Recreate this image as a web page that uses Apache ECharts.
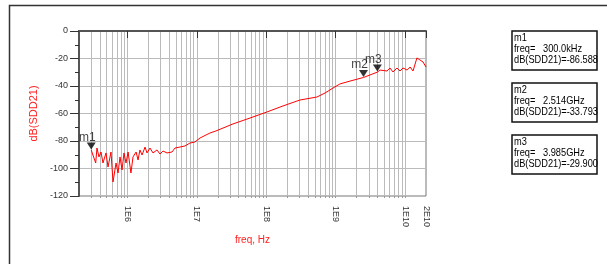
<!DOCTYPE html>
<html>
<head>
<meta charset="utf-8">
<script src="https://cdn.jsdelivr.net/npm/echarts@6/dist/echarts.min.js"></script>
<style>
  html, body { margin: 0; padding: 0; background: #fff; }
  #chart { width: 607px; height: 264px; }
</style>
</head>
<body>
<div id="chart"></div>
<script>
// sweep
const freqHz = [
  3.0e5, 3.48e5, 3.63e5, 3.88e5, 4.15e5, 4.43e5, 4.90e5, 5.24e5, 5.78e5, 6.18e5,
  6.83e5, 7.30e5, 7.80e5, 8.34e5, 8.90e5, 9.51e5, 1.02e6, 1.12e6, 1.20e6, 1.33e6,
  1.42e6, 1.51e6, 1.62e6, 1.79e6, 1.91e6, 2.11e6, 2.33e6, 2.66e6, 2.94e6, 3.25e6,
  3.71e6, 4.38e6, 4.83e6, 5.70e6, 6.73e6, 7.94e6, 9.37e6, 1.11e7, 1.54e7, 1.88e7,
  3.31e7, 5.82e7, 1.02e8, 1.74e8, 3.05e8, 5.37e8, 7.01e8, 9.14e8, 1.15e9, 1.61e9,
  2.514e9, 3.985e9, 4.34e9, 5.48e9, 6.05e9, 6.69e9, 7.64e9, 8.44e9, 9.33e9, 1.07e10,
  1.18e10, 1.30e10, 1.48e10, 1.64e10, 1.81e10, 2.0e10
];
const sdd21Db = [
  -86.6, -96.0, -85.1, -91.6, -88.0, -96.0, -88.7, -98.9, -88.0, -109.8,
  -96.0, -103.3, -91.6, -101.1, -88.7, -96.0, -88.0, -103.3, -91.6, -88.0,
  -93.8, -86.5, -90.2, -84.4, -88.7, -85.1, -88.7, -86.5, -89.5, -87.3,
  -88.7, -88.0, -85.1, -84.4, -83.6, -81.5, -80.7, -77.8, -74.2, -72.7,
  -67.6, -63.3, -58.9, -54.5, -50.2, -48.0, -45.1, -41.5, -38.5, -36.4,
  -33.8, -29.9, -28.4, -29.1, -26.9, -29.8, -26.9, -29.1, -26.9, -28.4,
  -26.2, -29.1, -19.6, -21.1, -22.5, -26.2
];

const markerNames = ['m1', 'm2', 'm3'];
const markerFreq = [3.0e5, 2.514e9, 3.985e9];
const markerFreqText = ['300.0kHz', '2.514GHz', '3.985GHz'];
const markerDb = [-86.588, -33.793, -29.900];

const xMinHz = 2e5;
const xMaxHz = 2e10;
const xTickHz = [1e6, 1e7, 1e8, 1e9, 1e10, 2e10];
const xTickLabels = ['1E6', '1E7', '1E8', '1E9', '1E10', '2E10'];
const gridDecades = [5, 6, 7, 8, 9, 10];
const gridMultipliers = [1, 2, 3, 4, 5, 6, 7, 8, 9];

const lg = Math.log10;
const xMin = lg(xMinHz), xMax = lg(xMaxHz);
const tickVals = xTickHz.map(lg);
const gridVals = [];
gridDecades.forEach(d => gridMultipliers.forEach(m => {
  const v = d + lg(m);
  if (v > xMin + 1e-6 && v < xMax - 1e-6) gridVals.push(v);
}));

const font = '"Liberation Sans", Arial, sans-serif';
const chart = echarts.init(document.getElementById('chart'));

chart.setOption({
  animation: false,
  grid: {
    left: 79, top: 31, right: 181, bottom: 68,
    show: true, borderColor: '#777', borderWidth: 1
  },
  xAxis: [
    {
      type: 'value', min: xMin, max: xMax,
      name: 'freq, Hz', nameLocation: 'middle', nameGap: 38,
      nameTextStyle: { color: '#ff2020', fontSize: 10, fontFamily: font },
      axisLine: { show: true, lineStyle: { color: '#555', width: 2 } },
      axisTick: { show: true, length: 7, customValues: tickVals, lineStyle: { color: '#333' } },
      axisLabel: {
        customValues: tickVals, rotate: -90, margin: 10,
        fontSize: 9, fontFamily: font, color: '#333',
        formatter: v => {
          const i = tickVals.findIndex(t => Math.abs(t - v) < 1e-6);
          return i >= 0 ? xTickLabels[i] : '';
        }
      },
      splitLine: { show: false }
    },
    {
      type: 'value', min: xMin, max: xMax, position: 'bottom',
      axisLine: { show: false },
      axisTick: { show: true, length: 2, customValues: gridVals, lineStyle: { color: '#999' } },
      axisLabel: { show: false },
      splitLine: { show: true, lineStyle: { color: '#bbb', width: 1 } }
    }
  ],
  yAxis: {
    type: 'value', min: -120, max: 0, interval: 20,
    name: 'dB(SDD21)', nameLocation: 'middle', nameGap: 40,
    nameTextStyle: { color: '#ff2020', fontSize: 11, fontFamily: font },
    axisLine: { show: true, lineStyle: { color: '#555', width: 2 } },
    axisTick: { show: true, length: 9, lineStyle: { color: '#333' } },
    minorTick: { show: true, splitNumber: 2, length: 4, lineStyle: { color: '#333' } },
    axisLabel: { margin: 11, fontSize: 9, fontFamily: font, color: '#333' },
    splitLine: { show: true, lineStyle: { color: '#bbb', width: 1 } }
  },
  series: [
    {
      type: 'line', xAxisIndex: 0,
      data: freqHz.map((f, i) => [lg(f), sdd21Db[i]]),
      showSymbol: false, symbol: 'none',
      lineStyle: { color: '#ff0000', width: 1 },
      z: 3
    },
    {
      type: 'scatter', xAxisIndex: 0,
      data: markerNames.map((n, i) => ({ name: n, value: [lg(markerFreq[i]), markerDb[i]] })),
      symbol: 'triangle', symbolRotate: 180, symbolSize: [9, 7], symbolOffset: [0, -4],
      itemStyle: { color: '#000' },
      label: {
        show: true, position: 'top', distance: 0, offset: [-4, 1],
        formatter: p => p.name,
        fontSize: 12, fontFamily: font, color: '#111'
      },
      z: 5
    }
  ],
  graphic: [
    {
      type: 'rect', silent: true, z: -10,
      shape: { x: 9.5, y: 5.5, width: 700, height: 400 },
      style: { fill: 'none', stroke: '#333', lineWidth: 1.5 }
    },
    ...markerNames.map((n, i) => ({
      type: 'group', x: 512, y: 31 + i * 52,
      children: [
        {
          type: 'rect', shape: { x: 0, y: 0, width: 85, height: 39 },
          style: { fill: '#fff', stroke: '#111', lineWidth: 1.5 }
        },
        {
          type: 'text', x: 2, y: 2, scaleX: 0.88,
          style: {
            text: n + '\nfreq=   ' + markerFreqText[i] + '\ndB(SDD21)=' + markerDb[i].toFixed(3),
            fontSize: 10.5, fontFamily: font, lineHeight: 11, fill: '#000'
          }
        }
      ]
    }))
  ]
});
</script>
</body>
</html>
